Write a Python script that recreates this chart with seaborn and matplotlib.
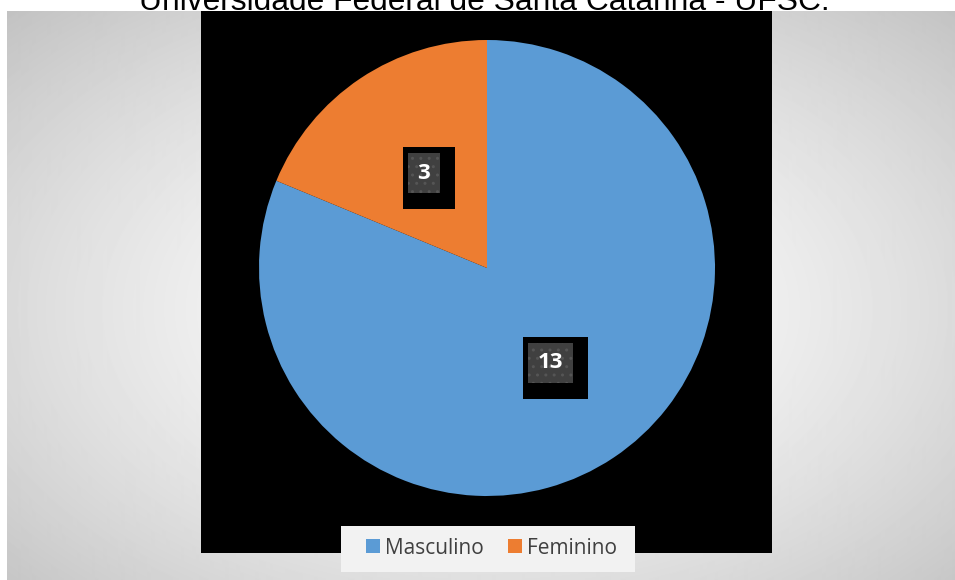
import numpy as np
import matplotlib
matplotlib.use('Agg')
import matplotlib.pyplot as plt
import seaborn as sns
from matplotlib.patches import Rectangle
from matplotlib.transforms import IdentityTransform

# ---- data ----
categories = ['Masculino', 'Feminino']
values = [13, 3]
colors = ['#5B9BD5', '#ED7D31']
title = 'Universidade Federal de Santa Catarina - UFSC.'

sns.set_theme(style='white')
plt.rcParams['font.family'] = ['Open Sans', 'DejaVu Sans']

W, H = 955, 580
fig = plt.figure(figsize=(W / 100, H / 100), dpi=100)
fig.patch.set_facecolor('white')


def fx(px):
    return px / W


def fy(py):
    return 1 - py / H


# ---- background radial gradient ----
bx0, by0 = 7, 11
bg = fig.add_axes([fx(bx0), 0, (W - bx0) / W, (H - by0) / H], zorder=0)
xs = np.arange(bx0, W) + 0.5
ys = np.arange(by0, H) + 0.5
X, Y = np.meshgrid(xs, ys)
cx, cy, rx, ry = 487, 310, 480, 300
d = np.sqrt(((X - cx) / rx) ** 2 + ((Y - cy) / ry) ** 2) / np.sqrt(2)
gray = 1 - 0.24 * np.clip(d, 0, 1.05) ** 1.45
bg.imshow(gray, cmap='gray', vmin=0, vmax=1, extent=(0, 1, 0, 1),
          aspect='auto', interpolation='bilinear')
bg.axis('off')

# ---- black plot area ----
fig.add_artist(Rectangle((fx(201), fy(553)), (772 - 201) / W, (553 - 11) / H,
                         transform=fig.transFigure, facecolor='black',
                         edgecolor='none', zorder=0.5))

# ---- pie ----
r = 228
pcx, pcy = 487, 268
ax = fig.add_axes([fx(pcx - r), fy(pcy + r), 2 * r / W, 2 * r / H], zorder=1)
total = sum(values)
wedges, texts, autotexts = ax.pie(
    values, colors=colors, startangle=90, counterclock=False, radius=1,
    autopct=lambda p: f'{p * total / 100:.0f}', pctdistance=0.5,
    wedgeprops=dict(linewidth=0))
ax.set_xlim(-1, 1)
ax.set_ylim(-1, 1)
ax.set_aspect('equal')
ax.axis('off')

for t in autotexts:
    t.set_color('white')
    t.set_fontsize(16)
    t.set_fontweight('bold')
    t.set_zorder(4)
    t.set_bbox(dict(boxstyle='square,pad=0.43', facecolor='#404040',
                    edgecolor='#555555', linewidth=0, hatch='..'))

# black shadow box behind each data label, derived from the label's box
fig.canvas.draw()
for t in autotexts:
    bb = t.get_bbox_patch().get_window_extent()
    x0, x1 = bb.x0 - 5, bb.x1 + 15
    y0, y1 = bb.y0 - 16, bb.y1 + 6
    ax.add_artist(Rectangle((x0, y0), x1 - x0, y1 - y0,
                            transform=IdentityTransform(), facecolor='black',
                            edgecolor='none', zorder=3.5, clip_on=False))

# ---- legend ----
fig.add_artist(Rectangle((fx(341), fy(572)), 294 / W, 46 / H,
                         transform=fig.transFigure, facecolor='#F2F2F2',
                         edgecolor='none', zorder=1.5))
fig.legend(wedges, categories, loc='center',
           bbox_to_anchor=(fx(491.5), fy(548)), ncol=2, frameon=False,
           fontsize=15, handlelength=0.67, handleheight=0.67,
           handletextpad=0.24, columnspacing=1.2, borderpad=0,
           labelcolor='#404040')

# ---- title (cut off at the top, as in the original) ----
fig.text(fx(484.5), fy(10), title, ha='center', va='baseline',
         fontsize=22.86, family=['Liberation Sans', 'DejaVu Sans'],
         color='black', zorder=3)

fig.savefig('out.png', dpi=100)
